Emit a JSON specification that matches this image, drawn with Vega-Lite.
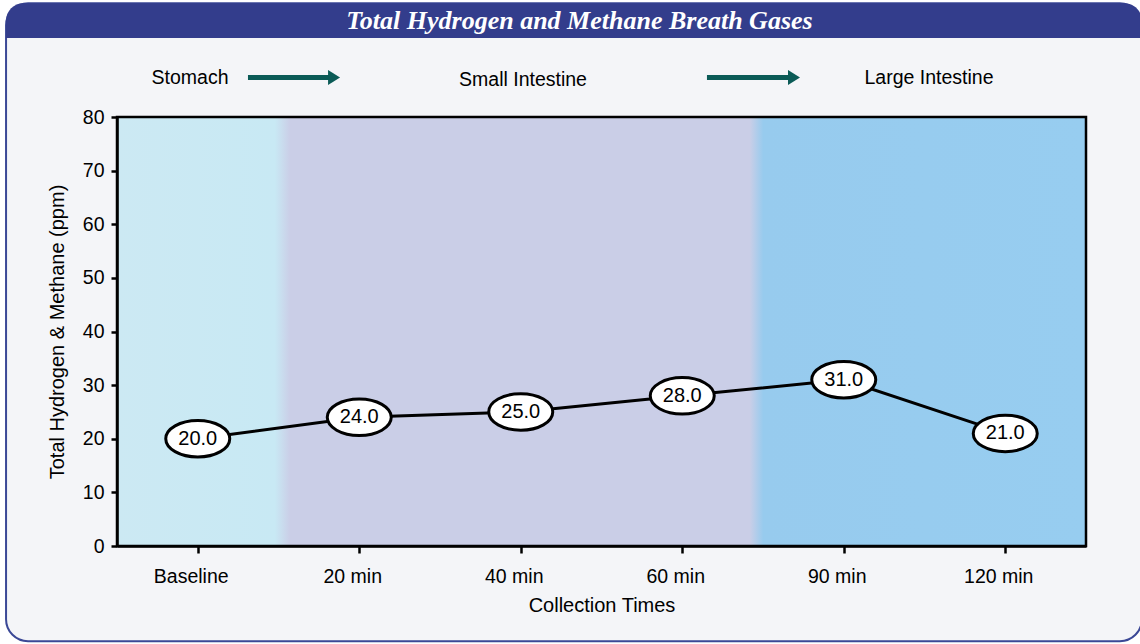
{
  "$schema": "https://vega.github.io/schema/vega-lite/v6.json",
  "autosize": {"type": "none"},
  "width": 969,
  "height": 429,
  "padding": {"left": 117, "top": 117, "right": 54, "bottom": 98},
  "background": "#ffffff",
  "title": {
    "text": "Total Hydrogen and Methane Breath Gases",
    "anchor": "middle",
    "frame": "group",
    "orient": "top",
    "baseline": "middle",
    "offset": -45,
    "dx": -22,
    "color": "#ffffff",
    "font": "Liberation Serif",
    "fontStyle": "italic",
    "fontWeight": "bold",
    "fontSize": 26
  },
  "config": {
    "view": {"stroke": null},
    "font": "Liberation Sans"
  },
  "data": {
    "values": [
      {"time": "Baseline", "idx": 0, "value": 20.0},
      {"time": "20 min", "idx": 1, "value": 24.0},
      {"time": "40 min", "idx": 2, "value": 25.0},
      {"time": "60 min", "idx": 3, "value": 28.0},
      {"time": "90 min", "idx": 4, "value": 31.0},
      {"time": "120 min", "idx": 5, "value": 21.0}
    ]
  },
  "layer": [
    {
      "data": {"values": [{}]},
      "mark": {"type": "rect", "fill": "#f4f5f8", "stroke": "#3b4896", "strokeWidth": 2, "cornerRadius": 22},
      "encoding": {
        "x": {"datum": -1.187, "type": "quantitative", "scale": {"domain": [-0.5, 5.5], "nice": false, "zero": false}},
        "x2": {"datum": 5.846},
        "y": {"datum": 101.2, "type": "quantitative", "scale": {"domain": [0, 80], "nice": false, "zero": false}},
        "y2": {"datum": -17.75}
      }
    },
    {
      "data": {"values": [{}]},
      "mark": {"type": "rect", "fill": "#333d8c", "cornerRadiusTopLeft": 26, "cornerRadiusTopRight": 26},
      "encoding": {
        "x": {"datum": -1.187, "type": "quantitative"},
        "x2": {"datum": 5.846},
        "y": {"datum": 101.2, "type": "quantitative"},
        "y2": {"datum": 94.73}
      }
    },
    {
      "data": {"values": [{}]},
      "mark": {
        "type": "rect",
        "stroke": "#000000",
        "strokeWidth": 2.5,
        "fill": {
          "gradient": "linear",
          "x1": 0, "y1": 0, "x2": 1, "y2": 0,
          "stops": [
            {"offset": 0, "color": "#cce9f3"},
            {"offset": 0.163, "color": "#c8e9f4"},
            {"offset": 0.1785, "color": "#cacee7"},
            {"offset": 0.653, "color": "#cacee7"},
            {"offset": 0.667, "color": "#97cbee"},
            {"offset": 1, "color": "#97cdf0"}
          ]
        }
      },
      "encoding": {
        "x": {
          "datum": -0.5, "type": "quantitative",
          "axis": {
            "values": [0, 1, 2, 3, 4, 5],
            "labelExpr": "['Baseline','20 min','40 min','60 min','90 min','120 min'][datum.value]",
            "title": "Collection Times",
            "grid": false,
            "zindex": 1,
            "domainColor": "#000000", "domainWidth": 2.5,
            "tickColor": "#000000", "tickWidth": 2.5, "tickSize": 7,
            "labelColor": "#000000", "labelFontSize": 19.5, "labelFont": "Liberation Sans", "labelPadding": 14, "labelOffset": -7,
            "labelFlush": false, "labelOverlap": false,
            "titleColor": "#000000", "titleFontSize": 20, "titleFont": "Liberation Sans", "titleFontWeight": "normal", "titlePadding": 10
          }
        },
        "x2": {"datum": 5.5},
        "y": {
          "datum": 0, "type": "quantitative",
          "axis": {
            "values": [0, 10, 20, 30, 40, 50, 60, 70, 80],
            "title": "Total Hydrogen & Methane (ppm)",
            "grid": false,
            "zindex": 1,
            "domainColor": "#000000", "domainWidth": 2.5,
            "tickColor": "#000000", "tickWidth": 2.5, "tickSize": 6,
            "labelColor": "#000000", "labelFontSize": 19.5, "labelFont": "Liberation Sans", "labelPadding": 7,
            "labelFlush": false, "labelOverlap": false,
            "titleColor": "#000000", "titleFontSize": 20, "titleFont": "Liberation Sans", "titleFontWeight": "normal", "titlePadding": 15
          }
        },
        "y2": {"datum": 80}
      }
    },
    {
      "mark": {"type": "line", "color": "#000000", "strokeWidth": 3},
      "encoding": {
        "x": {"field": "idx", "type": "quantitative"},
        "y": {"field": "value", "type": "quantitative"}
      }
    },
    {
      "mark": {
        "type": "point",
        "shape": "M -1 0 A 1 0.57 0 1 0 1 0 A 1 0.57 0 1 0 -1 0 Z",
        "size": 4096,
        "filled": true,
        "fill": "#ffffff",
        "stroke": "#000000",
        "strokeWidth": 3,
        "opacity": 1
      },
      "encoding": {
        "x": {"field": "idx", "type": "quantitative"},
        "y": {"field": "value", "type": "quantitative"}
      }
    },
    {
      "mark": {"type": "text", "fontSize": 20, "font": "Liberation Sans", "color": "#000000", "align": "center", "baseline": "middle"},
      "encoding": {
        "x": {"field": "idx", "type": "quantitative"},
        "y": {"field": "value", "type": "quantitative"},
        "text": {"field": "value", "type": "quantitative", "format": ".1f"}
      }
    },
    {
      "data": {"values": [
        {"label": "Stomach", "pos": -0.048, "lvl": 87.27},
        {"label": "Small Intestine", "pos": 2.014, "lvl": 86.9},
        {"label": "Large Intestine", "pos": 4.528, "lvl": 87.27}
      ]},
      "mark": {"type": "text", "fontSize": 19.5, "font": "Liberation Sans", "color": "#000000", "align": "center", "baseline": "middle"},
      "encoding": {
        "x": {"field": "pos", "type": "quantitative"},
        "y": {"field": "lvl", "type": "quantitative"},
        "text": {"field": "label"}
      }
    },
    {
      "data": {"values": [
        {"from": 0.311, "to": 0.819, "lvl": 87.37},
        {"from": 3.153, "to": 3.667, "lvl": 87.37}
      ]},
      "mark": {"type": "rule", "color": "#0b5b57", "strokeWidth": 5},
      "encoding": {
        "x": {"field": "from", "type": "quantitative"},
        "x2": {"field": "to"},
        "y": {"field": "lvl", "type": "quantitative"}
      }
    },
    {
      "data": {"values": [
        {"head": 0.844, "lvl": 87.37},
        {"head": 3.692, "lvl": 87.37}
      ]},
      "mark": {
        "type": "point",
        "shape": "M -0.8 -1 L 0.8 0 L -0.8 1 Z",
        "size": 225,
        "filled": true,
        "color": "#0b5b57",
        "opacity": 1
      },
      "encoding": {
        "x": {"field": "head", "type": "quantitative"},
        "y": {"field": "lvl", "type": "quantitative"}
      }
    }
  ]
}
